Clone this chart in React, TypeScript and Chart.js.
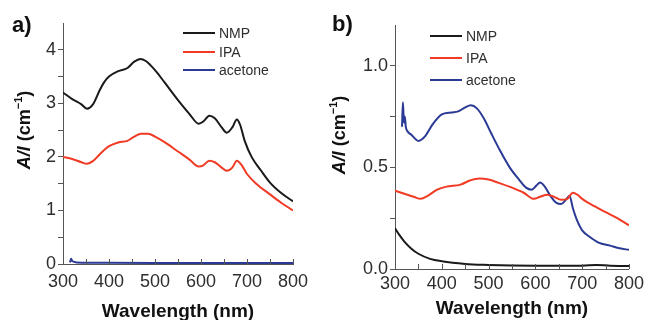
import { useEffect, useRef } from 'react';
import { Chart, registerables } from 'chart.js';

Chart.register(...registerables);

// ---------- Panel a data ----------
const aNmpX = [300, 320, 340, 352, 365, 380, 390, 400, 420, 440, 455, 468, 480, 500, 520, 550, 575, 595, 605, 618, 630, 645, 656, 668, 678, 685, 695, 710, 730, 750, 775, 800];
const aNmpY = [3.2, 3.08, 2.98, 2.9, 2.98, 3.25, 3.4, 3.5, 3.6, 3.66, 3.78, 3.83, 3.79, 3.62, 3.4, 3.06, 2.8, 2.62, 2.66, 2.77, 2.72, 2.55, 2.45, 2.55, 2.7, 2.6, 2.3, 2.0, 1.75, 1.52, 1.32, 1.17];
const aIpaX = [300, 320, 340, 352, 365, 380, 400, 420, 440, 455, 470, 485, 500, 520, 550, 575, 595, 605, 618, 630, 645, 656, 668, 678, 688, 700, 720, 750, 775, 800];
const aIpaY = [2.0, 1.96, 1.9, 1.87, 1.92, 2.05, 2.2, 2.27, 2.3, 2.38, 2.43, 2.43, 2.38, 2.28, 2.1, 1.95, 1.82, 1.84, 1.93, 1.9, 1.8, 1.74, 1.8, 1.93, 1.85, 1.68, 1.5, 1.3, 1.14, 1.0];
const aAceX = [315, 317, 318, 319, 321, 324, 330, 360, 400, 500, 600, 700, 800];
const aAceY = [0.03, 0.08, 0.1, 0.07, 0.05, 0.04, 0.03, 0.025, 0.022, 0.02, 0.02, 0.02, 0.02];

// ---------- Panel b data ----------
const bNmpX = [300, 310, 320, 335, 350, 375, 400, 450, 500, 550, 600, 700, 730, 760, 800];
const bNmpY = [0.2, 0.165, 0.135, 0.1, 0.075, 0.05, 0.038, 0.025, 0.02, 0.017, 0.016, 0.016, 0.02, 0.016, 0.015];
const bIpaX = [300, 320, 340, 355, 370, 390, 410, 440, 460, 480, 500, 520, 550, 575, 597, 610, 625, 640, 655, 668, 680, 690, 700, 725, 750, 775, 800];
const bIpaY = [0.385, 0.37, 0.355, 0.345, 0.36, 0.39, 0.405, 0.415, 0.435, 0.445, 0.44, 0.425, 0.4, 0.375, 0.345, 0.355, 0.365, 0.355, 0.34, 0.345, 0.375, 0.365, 0.345, 0.31, 0.28, 0.25, 0.215];
const bAceX = [315, 317, 319, 321, 323, 326, 335, 350, 365, 380, 400, 420, 435, 450, 462, 475, 490, 505, 525, 545, 565, 580, 592, 602, 610, 620, 632, 645, 655, 665, 673, 680, 688, 700, 715, 735, 760, 780, 800];
const bAceY = [0.7, 0.82, 0.72, 0.75, 0.7, 0.68, 0.66, 0.63, 0.655, 0.71, 0.76, 0.77, 0.775, 0.795, 0.805, 0.79, 0.74, 0.67, 0.58, 0.5, 0.44, 0.4, 0.39, 0.41, 0.425, 0.405, 0.36, 0.325, 0.32, 0.34, 0.36, 0.3, 0.245, 0.19, 0.16, 0.13, 0.115, 0.102, 0.094];

const seriesNames = ['NMP', 'IPA', 'acetone'];
const seriesColors = ['#1a1a1a', '#f03a24', '#2b3a94'];
const xTickValues = [300, 400, 500, 600, 700, 800];

const FONT = '"Liberation Sans", Arial, sans-serif';
const AXIS = '#555555';
const TEXT = '#2e2e2e';

function pts(xs: number[], ys: number[]) {
  return xs.map((x, i) => ({ x, y: ys[i] }));
}

const decorPlugin = {
  id: 'decor',
  afterDraw(chart: any, _args: any, opts: any) {
    const ctx = chart.ctx;
    const xs = chart.scales.x;
    const area = chart.chartArea;
    ctx.save();
    // inner x ticks every 50
    ctx.strokeStyle = AXIS;
    ctx.lineWidth = 1;
    for (let v = 300; v <= 800; v += 50) {
      const px = Math.round(xs.getPixelForValue(v)) + 0.5;
      ctx.beginPath();
      ctx.moveTo(px, area.bottom);
      ctx.lineTo(px, area.bottom - 5);
      ctx.stroke();
    }
    // panel label
    ctx.fillStyle = '#111';
    ctx.font = `bold 22px ${FONT}`;
    ctx.textBaseline = 'alphabetic';
    ctx.textAlign = 'left';
    ctx.fillText(opts.label, opts.labelX, opts.labelY);
    // y title (rotated)
    ctx.translate(opts.yTitleX, opts.yTitleY);
    ctx.rotate(-Math.PI / 2);
    const f1 = `italic bold 18px ${FONT}`;
    const f2 = `bold 18px ${FONT}`;
    const f3 = `bold 11px ${FONT}`;
    const p1 = 'A/l';
    const p2 = ' (cm';
    const p3 = '\u22121';
    const p4 = ')';
    ctx.font = f1; const w1 = ctx.measureText(p1).width;
    ctx.font = f2; const w2 = ctx.measureText(p2).width; const w4 = ctx.measureText(p4).width;
    ctx.font = f3; const w3 = ctx.measureText(p3).width;
    let cx = -(w1 + w2 + w3 + w4) / 2;
    ctx.textBaseline = 'middle';
    ctx.fillStyle = '#111';
    ctx.font = f1; ctx.fillText(p1, cx, 0); cx += w1;
    ctx.font = f2; ctx.fillText(p2, cx, 0); cx += w2;
    ctx.font = f3; ctx.fillText(p3, cx, -6); cx += w3;
    ctx.font = f2; ctx.fillText(p4, cx, 0);
    ctx.restore();
    // legend
    ctx.save();
    ctx.font = `14px ${FONT}`;
    ctx.textBaseline = 'middle';
    ctx.textAlign = 'left';
    chart.data.datasets.forEach((ds: any, i: number) => {
      const y = opts.legendRows[i];
      ctx.strokeStyle = ds.borderColor;
      ctx.lineWidth = 2;
      ctx.beginPath();
      ctx.moveTo(opts.legendX, y);
      ctx.lineTo(opts.legendX + 32, y);
      ctx.stroke();
      ctx.fillStyle = TEXT;
      ctx.fillText(ds.label, opts.legendX + 36, y + 1);
    });
    ctx.restore();
  },
};

type PanelSpec = {
  series: { x: number[]; y: number[] }[];
  yMax: number;
  yStep: number;
  yMajor: number;
  yDecimals: number;
  yWidth: number;
  pad: { left: number; right: number; top: number; bottom: number };
  xHeight: number;
  xTickPad: number;
  xTitlePad: number;
  decor: any;
};

function Panel({ spec }: { spec: PanelSpec }) {
  const ref = useRef<HTMLCanvasElement | null>(null);
  useEffect(() => {
    if (!ref.current) return;
    const chart = new Chart(ref.current, {
      type: 'line',
      data: {
        datasets: spec.series.map((s, i) => ({
          label: seriesNames[i],
          data: pts(s.x, s.y),
          borderColor: seriesColors[i],
          backgroundColor: seriesColors[i],
          borderWidth: 2,
          pointRadius: 0,
          cubicInterpolationMode: 'monotone' as const,
          fill: false,
        })),
      },
      options: {
        animation: false,
        responsive: false,
        devicePixelRatio: 1,
        layout: { padding: spec.pad },
        plugins: {
          legend: { display: false },
          tooltip: { enabled: false },
          decor: spec.decor,
        } as any,
        scales: {
          x: {
            type: 'linear',
            min: 300,
            max: 800,
            afterBuildTicks: (s: any) => {
              s.ticks = xTickValues.map((v) => ({ value: v }));
            },
            afterFit: (s: any) => {
              s.height = spec.xHeight;
            },
            ticks: {
              autoSkip: false,
              maxRotation: 0,
              padding: spec.xTickPad,
              color: TEXT,
              font: { family: FONT, size: 18 },
            },
            grid: { display: true, drawOnChartArea: false, drawTicks: false },
            border: { display: true, color: AXIS, width: 1 },
            title: {
              display: true,
              text: 'Wavelength (nm)',
              color: '#111',
              font: { family: FONT, size: 19, weight: 'bold' },
              padding: { top: 0, bottom: spec.xTitlePad },
            },
          },
          y: {
            type: 'linear',
            min: 0,
            max: spec.yMax,
            afterBuildTicks: (s: any) => {
              const out: any[] = [];
              for (let v = 0; v <= spec.yMax - spec.yStep * 0.5 + 1e-9; v += spec.yStep) {
                out.push({ value: Math.round(v * 1000) / 1000 });
              }
              s.ticks = out;
            },
            afterFit: (s: any) => {
              s.width = spec.yWidth;
            },
            ticks: {
              autoSkip: false,
              padding: 2,
              color: TEXT,
              font: { family: FONT, size: 18 },
              callback: (v: any) => {
                const n = Number(v);
                const r = n / spec.yMajor;
                if (Math.abs(r - Math.round(r)) > 1e-6) return '';
                return n.toFixed(spec.yDecimals);
              },
            },
            grid: { display: true, drawOnChartArea: false, drawTicks: true, tickLength: 5, tickColor: AXIS },
            border: { display: true, color: AXIS, width: 1 },
          },
        },
      },
      plugins: [decorPlugin],
    } as any);
    return () => chart.destroy();
  }, [spec]);
  return <canvas ref={ref} width={324} height={320} style={{ display: 'block', width: 324, height: 320 }} />;
}

const specA: PanelSpec = {
  series: [
    { x: aNmpX, y: aNmpY },
    { x: aIpaX, y: aIpaY },
    { x: aAceX, y: aAceY },
  ],
  yMax: 4.5,
  yStep: 0.5,
  yMajor: 1,
  yDecimals: 0,
  yWidth: 63,
  pad: { left: 0, right: 31, top: 23, bottom: 0 },
  xHeight: 56,
  xTickPad: 7,
  xTitlePad: -3,
  decor: { label: 'a)', labelX: 12, labelY: 32, yTitleX: 25, yTitleY: 130, legendX: 183, legendRows: [33, 52, 70] },
};

const specB: PanelSpec = {
  series: [
    { x: bNmpX, y: bNmpY },
    { x: bIpaX, y: bIpaY },
    { x: bAceX, y: bAceY },
  ],
  yMax: 1.2,
  yStep: 0.25,
  yMajor: 0.5,
  yDecimals: 1,
  yWidth: 71,
  pad: { left: 0, right: 17, top: 25, bottom: 0 },
  xHeight: 51,
  xTickPad: 4,
  xTitlePad: 0,
  decor: { label: 'b)', labelX: 8, labelY: 31, yTitleX: 16, yTitleY: 135, legendX: 106, legendRows: [36, 58, 80] },
};

export default function App() {
  return (
    <div style={{ position: 'absolute', left: 0, top: 0, width: 648, height: 320, display: 'flex', background: '#fff' }}>
      <Panel spec={specA} />
      <Panel spec={specB} />
    </div>
  );
}
